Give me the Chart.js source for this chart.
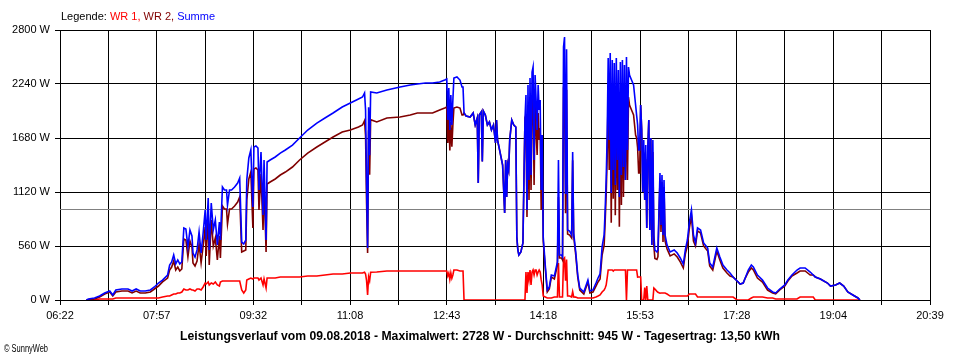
<!DOCTYPE html>
<html><head><meta charset="utf-8">
<script src="https://cdn.jsdelivr.net/npm/chart.js@4/dist/chart.umd.min.js"></script>
<style>html,body{margin:0;padding:0;background:#fff}#wrap{width:960px;height:360px;position:relative}</style>
</head><body><div id="wrap"><canvas id="c" width="960" height="360"></canvas></div>
<script>
// time of day in minutes since midnight
const minutes = [408,410,416,421,426,431,434,437,443,449,453,457,461,466,471,475,479,483,488,490,492,494,496,498,500,502,504,506,508,510,512,513,515,517,519,521,523,525,526,528,529,531,533,535,537,539,540,542,544,546,547,549,551,554,557,559,561,563,565,566,568,570,572,573,575,577,578,580,582,583,585,586,589,594,599,604,611,618,626,635,643,651,660,668,676,680,682,683,684,685,686,687,688,694,704,717,727,734,742,749,756,761,763,764,765,766,767,768,769,770,773,776,778,779,780,782,786,789,791,793,794,795,797,798,799,801,803,805,807,809,811,812,813,815,817,818,820,821,822,823,824,825,827,829,831,832,833,834,836,838,839,840,841,842,843,844,845,846,847,848,849,850,851,852,853,854,855,856,857,858,860,862,864,866,869,872,873,874,876,877,878,879,880,881,882,884,886,887,888,890,892,894,898,902,904,907,910,912,914,916,918,919,920,921,922,923,924,925,926,927,928,929,930,931,932,933,934,935,936,937,938,939,940,941,942,943,945,947,949,950,951,952,953,954,955,956,957,958,959,960,961,962,963,964,965,966,967,968,970,971,973,974,975,976,977,978,980,983,987,990,993,996,998,1000,1002,1004,1006,1008,1010,1013,1016,1020,1022,1025,1029,1032,1035,1039,1042,1045,1049,1052,1055,1057,1060,1063,1065,1069,1074,1079,1084,1087,1091,1096,1099,1103,1108,1111,1116,1121,1124,1126,1131,1138,1141,1146,1150,1154,1158,1163,1168,1170];
// Summe (W)
const summe = [0,10,21,41,73,93,52,104,114,114,93,114,93,93,104,135,176,207,259,363,394,467,374,415,374,394,747,736,550,726,664,487,446,519,705,487,695,933,622,1058,519,1006,726,830,570,809,622,1172,1141,1141,985,1141,1141,1172,1213,1265,601,581,622,1244,1473,1556,964,1587,1597,1576,1141,1535,881,1452,622,1431,1452,1483,1524,1556,1607,1680,1763,1835,1887,1939,2001,2043,2084,2105,2147,1970,1200,539,2000,1500,2157,2147,2178,2209,2230,2240,2250,2250,2261,2281,2292,1867,2199,1763,2126,1815,2074,2302,2313,2281,2209,2209,1939,1908,1898,1939,1815,1887,1213,1918,1950,1437,1960,1918,1815,1846,1763,1815,1628,1867,1659,1556,1452,1400,902,1452,1068,1400,1348,1659,1867,1815,1794,653,519,467,498,591,1244,1867,2126,933,2230,1244,2302,1296,2364,2416,1452,2333,2074,1763,2230,1970,2074,1141,1711,653,363,104,135,259,249,394,1452,467,467,446,2624,2727,1100,2600,726,715,674,1535,695,500,259,124,83,207,93,104,176,228,270,550,674,933,1244,1711,2510,1659,2561,1110,2489,1348,2458,1192,2510,1452,2385,1068,2468,1296,2489,1379,2437,1244,2520,1556,2416,2333,2281,2230,2022,1918,1815,1556,1556,2022,1763,1120,1659,1037,1607,747,1556,1867,726,1680,570,1659,674,519,498,519,1317,778,1296,674,1244,674,570,498,519,487,436,373,519,622,809,933,674,591,747,726,591,539,384,342,539,446,363,311,280,239,197,166,176,228,311,363,342,259,207,124,83,73,114,156,207,259,311,332,332,290,259,239,218,176,145,156,176,145,83,52,21,0];
// WR 2 (W)
const wr2 = [0,0,10,31,62,83,42,83,93,93,73,93,73,73,83,114,145,187,228,311,342,404,311,342,301,322,633,622,446,612,550,384,352,404,581,384,560,757,456,871,364,830,560,643,415,664,435,975,944,944,788,944,944,975,1016,1068,498,508,518,1037,1255,1328,746,1359,1369,1348,934,1307,725,1234,498,1203,1224,1255,1296,1327,1379,1452,1524,1587,1638,1690,1742,1763,1794,1815,1860,1700,1000,487,1760,1300,1870,1846,1887,1898,1918,1939,1939,1939,1970,1991,2001,1628,1918,1550,1846,1590,1815,1991,2001,1991,1918,1918,1939,1908,1898,1939,1815,1887,1213,1918,1950,1437,1960,1918,1815,1846,1763,1815,1628,1867,1659,1556,1452,1400,902,1452,1068,1400,1348,1659,1867,1815,1794,653,519,467,498,591,1244,1867,1836,861,1939,1037,1991,1141,2074,2105,1192,2022,1763,1504,1939,1659,1784,933,1556,612,332,83,114,238,218,363,1068,436,436,415,2200,2290,900,2180,684,674,643,1450,664,470,238,103,62,186,72,83,145,187,218,467,570,809,1090,1480,2200,1348,2250,800,2178,1050,2150,880,2200,1140,2074,760,2157,985,2178,1068,2126,1244,2209,1245,2105,2022,1970,1919,1711,1680,1576,1317,1317,2022,1763,1120,1530,1037,1460,747,1556,1867,726,1680,570,1535,560,430,420,450,1245,706,1224,602,1172,612,529,457,478,446,395,332,478,560,747,871,612,560,716,695,560,508,353,311,508,415,332,280,249,239,197,166,176,228,290,332,311,228,186,103,73,63,104,146,197,249,280,301,301,259,259,239,218,176,145,156,176,145,83,52,21,0];
// WR 1 (W)
const wr1 = [0,0,0,10,10,10,10,21,21,21,21,21,21,21,21,21,21,31,41,41,52,62,62,73,73,83,114,104,104,114,104,104,93,114,114,104,135,176,166,187,156,176,166,187,156,145,187,197,197,197,197,197,197,197,197,197,104,73,104,207,218,228,218,228,228,228,207,228,156,218,124,228,228,228,239,239,239,239,249,249,259,270,270,280,280,280,287,270,200,52,240,200,287,290,301,301,301,301,301,301,301,301,301,249,280,213,280,225,259,311,311,301,301,301,0,0,0,0,0,0,0,0,0,0,0,0,0,0,0,0,0,0,0,0,0,0,0,0,0,0,0,0,0,0,0,0,0,0,0,0,0,0,290,72,290,207,311,155,290,311,260,311,311,259,290,311,290,208,155,41,31,21,21,21,31,31,384,31,31,31,424,437,200,420,42,41,31,85,31,30,21,21,21,21,21,21,31,41,52,83,104,124,155,230,311,311,311,311,311,300,311,311,311,311,311,311,311,311,311,311,311,311,0,311,311,311,311,311,311,311,238,239,239,239,0,0,0,129,0,145,0,0,0,0,0,0,124,114,90,80,70,72,72,72,72,72,62,41,41,41,41,41,41,41,62,62,62,62,31,31,31,31,31,31,31,31,31,31,31,31,0,0,0,0,0,21,31,31,31,21,21,10,10,10,10,10,10,31,31,31,31,0,0,0,0,0,0,0,0,0,0,0,0];
const tickLabels = ['06:22','07:57','09:32','11:08','12:43','14:18','15:53','17:28','19:04','20:39'];
const xStart = 382, xEnd = 1239;      // 06:22 .. 20:39
const yMaxW = 2800, yStepW = 560;
const averageW = 945;
const legendParts = [['Legende: ','#000000'],['WR 1,','#ff0000'],[' WR 2,','#800000'],[' Summe','#0000ff']];
const titleText = 'Leistungsverlauf vom 09.08.2018 - Maximalwert: 2728 W - Durchschnitt: 945 W - Tagesertrag: 13,50 kWh';
const copyrightText = '\u00A9 SunnyWeb';

const FONT = "'Liberation Sans', Arial, sans-serif";
const pts = arr => minutes.map((m, i) => ({x: m, y: arr[i]}));

const avgPlugin = {
  id: 'avgLine',
  beforeDatasetsDraw(chart) {
    const {ctx, chartArea, scales} = chart;
    const y = Math.round(scales.y.getPixelForValue(averageW)) + 0.5;
    ctx.save();
    ctx.strokeStyle = '#808080'; ctx.lineWidth = 1;
    ctx.beginPath(); ctx.moveTo(chartArea.left, y); ctx.lineTo(chartArea.right, y); ctx.stroke();
    ctx.restore();
  }
};
const textPlugin = {
  id: 'texts',
  afterDraw(chart) {
    const ctx = chart.ctx;
    ctx.save();
    ctx.textBaseline = 'middle';
    ctx.font = '11px ' + FONT;
    let x = 61;
    for (const [t, c] of legendParts) { ctx.fillStyle = c; ctx.fillText(t, x, 17); x += ctx.measureText(t).width; }
    ctx.fillStyle = '#000';
    ctx.font = 'bold 12px ' + FONT;
    let w = ctx.measureText(titleText).width;
    ctx.save(); ctx.translate(480, 337); ctx.scale(600 / w, 1); ctx.textAlign = 'center'; ctx.fillText(titleText, 0, 0); ctx.restore();
    ctx.font = '10px ' + FONT;
    w = ctx.measureText(copyrightText).width;
    ctx.save(); ctx.translate(4, 349); ctx.scale(44 / w, 1); ctx.textAlign = 'left'; ctx.fillText(copyrightText, 0, 0); ctx.restore();
    ctx.restore();
  }
};

new Chart(document.getElementById('c'), {
  type: 'line',
  data: {
    datasets: [
      {label: 'Summe', data: pts(summe), borderColor: '#0000ff', order: 0},
      {label: 'WR 2', data: pts(wr2), borderColor: '#800000', order: 1},
      {label: 'WR 1', data: pts(wr1), borderColor: '#ff0000', order: 2}
    ]
  },
  options: {
    responsive: false,
    animation: false,
    layout: {padding: {left: 0, top: 30, right: 30, bottom: 0}},
    elements: {point: {radius: 0}, line: {borderWidth: 1.6, tension: 0, fill: false}},
    plugins: {legend: {display: false}, tooltip: {enabled: false}, title: {display: false}},
    scales: {
      x: {
        type: 'linear', min: xStart, max: xEnd,
        afterBuildTicks(s) { s.ticks = Array.from({length: 19}, (_, i) => ({value: xStart + i * (xEnd - xStart) / 18})); },
        afterFit(s) { s.height = 60; },
        grid: {color: '#000', lineWidth: 1, drawTicks: true, tickLength: 5},
        border: {color: '#000', width: 1},
        ticks: {autoSkip: false, maxRotation: 0, padding: 4, color: '#000', font: {family: FONT, size: 11},
          callback: (v, i) => (i % 2 === 0 ? tickLabels[i / 2] : '')}
      },
      y: {
        min: 0, max: yMaxW,
        afterFit(s) { s.width = 60; },
        grid: {color: '#000', lineWidth: 1, drawTicks: true, tickLength: 5},
        border: {color: '#000', width: 1},
        ticks: {stepSize: yStepW, padding: 5, color: '#000', font: {family: FONT, size: 11},
          callback: v => v + ' W'}
      }
    }
  },
  plugins: [avgPlugin, textPlugin]
});
</script>
</body></html>
